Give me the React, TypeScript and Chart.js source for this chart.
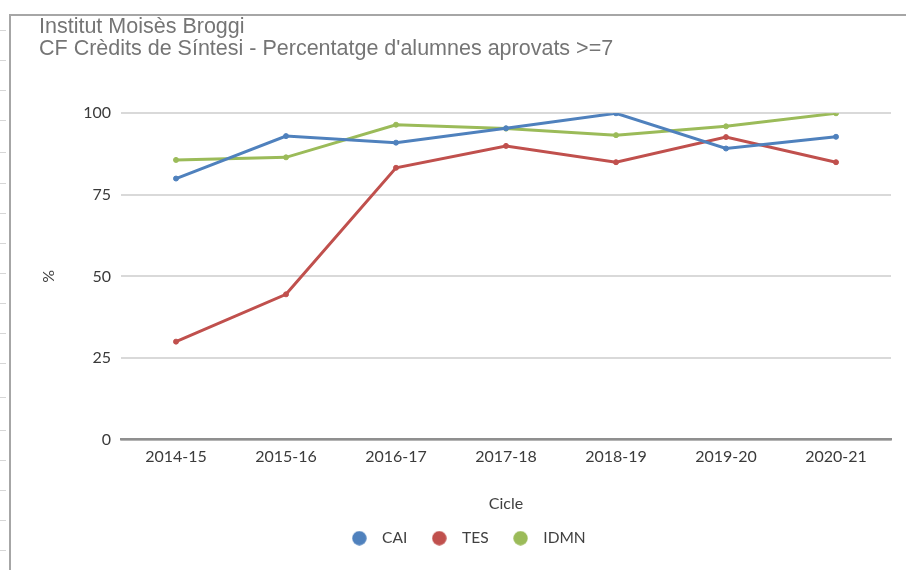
import React, { useEffect, useRef } from "react";
import { Chart, registerables } from "chart.js";

Chart.register(...registerables);

const titleLines = ["Institut Moisès Broggi", "CF Crèdits de Síntesi - Percentatge d'alumnes aprovats >=7"];
const categories = ["2014-15", "2015-16", "2016-17", "2017-18", "2018-19", "2019-20", "2020-21"];
const caiValues = [80, 93, 91, 95.4, 100, 89.2, 92.8];
const tesValues = [30, 44.5, 83.3, 90, 85, 92.7, 85];
const idmnValues = [85.7, 86.5, 96.5, 95.3, 93.3, 96, 100];
const seriesNames = ["CAI", "TES", "IDMN"];
const seriesColors = ["#4f81bd", "#c0504d", "#9bbb59"];
const yTitle = "%";
const xTitle = "Cicle";

const rulerTicks = [30, 60, 90, 120, 152, 183, 213, 243, 273, 303, 333, 363, 397, 430, 460, 490, 520, 550];

function makeDot(color: string, d: number) {
  const c = document.createElement("canvas");
  c.width = d;
  c.height = d;
  const ctx = c.getContext("2d");
  if (ctx) {
    ctx.fillStyle = color;
    ctx.beginPath();
    ctx.arc(d / 2, d / 2, d / 2 - 0.3, 0, Math.PI * 2);
    ctx.fill();
  }
  return c;
}

export default function App() {
  const ref = useRef<HTMLCanvasElement | null>(null);

  useEffect(() => {
    document.body.style.margin = "0";
    const canvas = ref.current;
    if (!canvas) return;
    const values = [caiValues, tesValues, idmnValues];
    const dots = seriesColors.map((c) => makeDot(c, 15));
    const chart = new Chart(canvas, {
      type: "line",
      data: {
        labels: categories,
        datasets: seriesNames.map((name, i) => ({
          label: name,
          data: values[i],
          borderColor: seriesColors[i],
          backgroundColor: seriesColors[i],
          pointBackgroundColor: seriesColors[i],
          pointBorderColor: seriesColors[i],
          borderWidth: 3,
          pointRadius: 2.5,
          pointBorderWidth: 1,
          tension: 0,
          fill: false,
        })),
      },
      options: {
        responsive: false,
        animation: false,
        layout: { padding: { left: 39, right: 15, top: 0, bottom: 14 } },
        plugins: {
          title: {
            display: true,
            text: titleLines,
            align: "start",
            color: "#757575",
            font: { family: "'Liberation Sans', Arial, sans-serif", size: 21.5, weight: "normal", lineHeight: 1.03 },
            padding: { top: 16, bottom: 53 },
          },
          legend: {
            position: "bottom",
            labels: {
              usePointStyle: true,
              pointStyleWidth: 30,
              boxHeight: 15,
              boxWidth: 30,
              padding: 17,
              color: "#404040",
              font: { family: "Lato, sans-serif", size: 15.5 },
              generateLabels: (ch: any) => {
                const items = Chart.defaults.plugins.legend.labels.generateLabels(ch);
                return items.map((it: any, i: number) => ({ ...it, pointStyle: dots[i % dots.length] }));
              },
            },
          },
          tooltip: { enabled: false },
        },
        scales: {
          x: {
            offset: true,
            grid: { display: false, drawTicks: false },
            border: { display: true, color: "#8f8f8f", width: 2.5 },
            ticks: {
              color: "#3a3a3a",
              padding: 8,
              font: { family: "Lato, sans-serif", size: 16 },
              maxRotation: 0,
            },
            title: {
              display: true,
              text: xTitle,
              color: "#404040",
              font: { family: "Lato, sans-serif", size: 16 },
              padding: { top: 0, bottom: 0 },
            },
            afterFit: (scale: any) => {
              scale.height = 74;
            },
          },
          y: {
            min: 0,
            max: 100,
            grid: { color: "#d9d9d9", lineWidth: 2, drawTicks: false },
            border: { display: false },
            ticks: {
              stepSize: 25,
              color: "#3a3a3a",
              padding: 10,
              font: { family: "Lato, sans-serif", size: 16 },
            },
            title: {
              display: true,
              text: yTitle,
              color: "#404040",
              font: { family: "Lato, sans-serif", size: 16 },
              padding: { top: 0, bottom: 0 },
            },
            afterFit: (scale: any) => {
              scale.width = 82;
            },
          },
        },
      },
    });
    return () => chart.destroy();
  }, []);

  return (
    <div style={{ position: "relative", width: 906, height: 570, overflow: "hidden", background: "#fff" }}>
      <canvas ref={ref} width={906} height={570} style={{ position: "absolute", left: 0, top: 0 }} />
      <div style={{ position: "absolute", left: 9, top: 14, right: 0, height: 1.5, background: "#a6a6a6" }} />
      <div style={{ position: "absolute", left: 9, top: 14, bottom: 0, width: 1.5, background: "#a6a6a6" }} />
      {rulerTicks.map((y) => (
        <div key={y} style={{ position: "absolute", left: 0, top: y, width: 6, height: 1, background: "#d6d6d6" }} />
      ))}
    </div>
  );
}
